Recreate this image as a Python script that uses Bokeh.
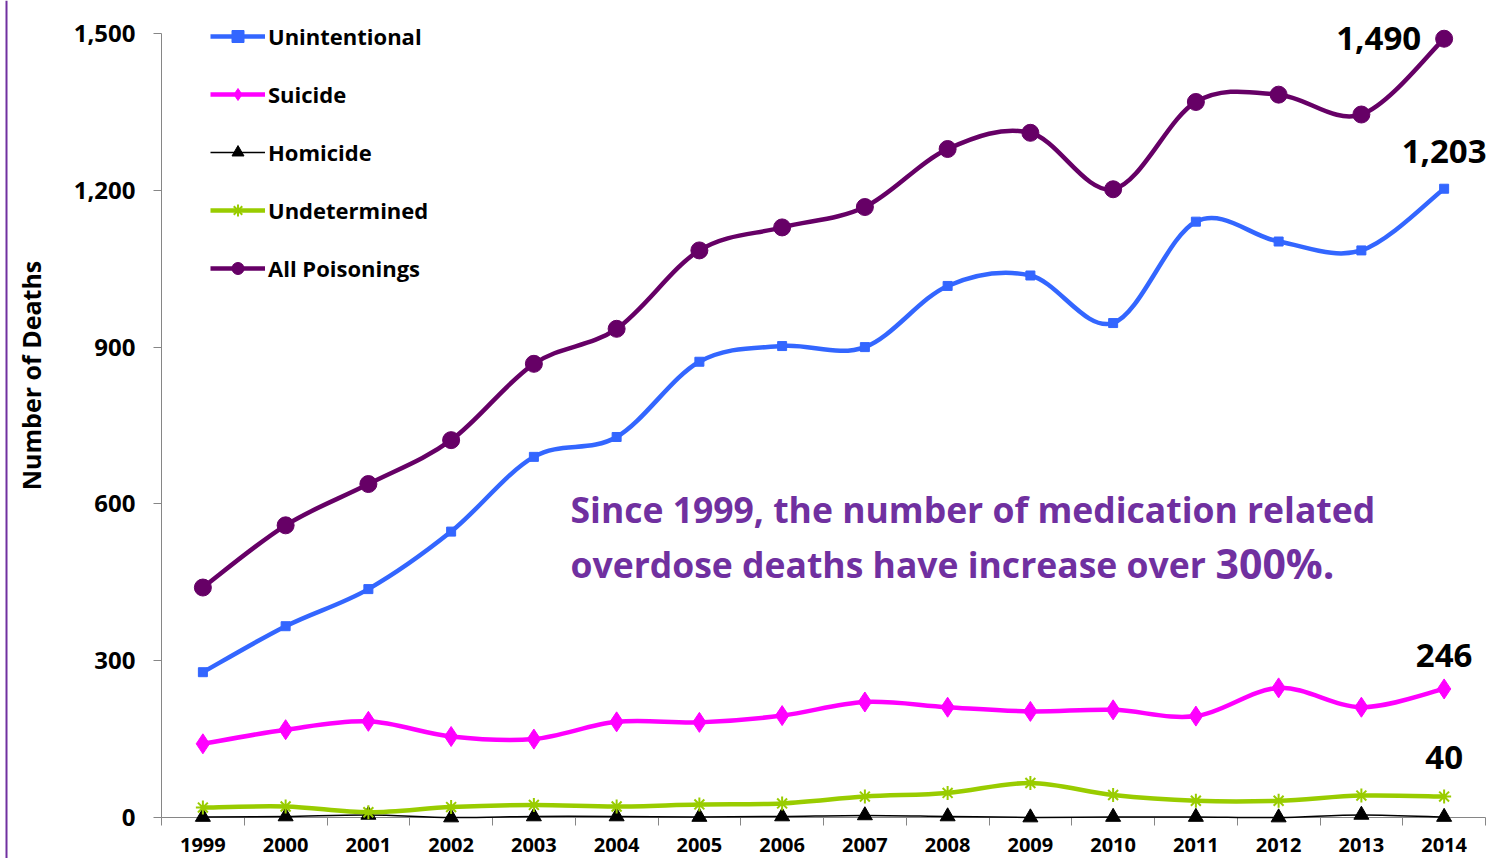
import numpy as np
from bokeh.plotting import figure
from bokeh.models import (Range1d, FixedTicker, NumeralTickFormatter, Legend,
                          LegendItem, Label, BoxAnnotation)
from bokeh.embed import file_html
from bokeh.resources import INLINE

# ---------------- data ----------------
years = ["1999", "2000", "2001", "2002", "2003", "2004", "2005", "2006",
         "2007", "2008", "2009", "2010", "2011", "2012", "2013", "2014"]
unintentional = [278, 366, 437, 547, 690, 728, 872, 902, 900, 1017, 1037, 946, 1140, 1102, 1085, 1203]
suicide = [141, 168, 184, 155, 150, 183, 182, 195, 221, 211, 203, 206, 194, 248, 211, 246]
homicide = [1, 2, 5, 0, 2, 2, 1, 2, 4, 2, 0, 1, 1, 0, 5, 1]
undetermined = [19, 21, 10, 20, 24, 21, 25, 27, 40, 47, 66, 43, 32, 32, 42, 40]
all_poisonings = [440, 559, 638, 722, 868, 935, 1085, 1129, 1168, 1279, 1310, 1202, 1369, 1383, 1345, 1490]
y_ticks = [0, 300, 600, 900, 1200, 1500]

FONT = "Open Sans"
PURPLE_TEXT = "#7030A0"
AXIS_GRAY = "#868686"

W, H = 1494, 858
PLOT_L, PLOT_R, Y0_PX = 161, 1485, 817       # pixel layout of the plot area
CAT_W = (PLOT_R - PLOT_L) / len(years)       # px per category
PX_PER_UNIT = 784 / 1500                     # px per death

xs = np.arange(len(years), dtype=float)


def smooth_segments(xv, yv):
    """Catmull-Rom style Bezier control points (like Excel's smoothed line)."""
    xv = np.asarray(xv, float)
    yv = np.asarray(yv, float)
    px = np.concatenate([[xv[0]], xv, [xv[-1]]])
    py = np.concatenate([[yv[0]], yv, [yv[-1]]])
    n = len(xv)
    p0x, p0y = px[0:n - 1], py[0:n - 1]
    p1x, p1y = px[1:n], py[1:n]
    p2x, p2y = px[2:n + 1], py[2:n + 1]
    p3x, p3y = px[3:n + 2], py[3:n + 2]
    return dict(x0=p1x, y0=p1y, x1=p2x, y1=p2y,
                cx0=p1x + (p2x - p0x) / 6.0, cy0=p1y + (p2y - p0y) / 6.0,
                cx1=p2x - (p3x - p1x) / 6.0, cy1=p2y - (p3y - p1y) / 6.0)


def sx(px):   # pixel column -> x data value
    return -0.5 + (px - PLOT_L) / CAT_W


def sy(py):   # pixel row -> y data value
    return (Y0_PX - py) / PX_PER_UNIT


# the frame covers the whole canvas; axes are pinned inside it
p = figure(width=W, height=H,
           x_range=Range1d(sx(0), sx(W)), y_range=Range1d(sy(H), sy(0)),
           output_backend="svg", toolbar_location=None,
           min_border_left=0, min_border_right=0,
           min_border_top=0, min_border_bottom=0)
p.xgrid.visible = False
p.ygrid.visible = False
p.outline_line_color = None
p.background_fill_color = "white"
p.border_fill_color = "white"

# y axis
yax = p.yaxis[0]
yax.fixed_location = -0.5
yax.bounds = (0, 1500)
yax.level = "underlay"
yax.ticker = FixedTicker(ticks=y_ticks)
yax.formatter = NumeralTickFormatter(format="0,0")
yax.axis_line_color = AXIS_GRAY
yax.major_tick_line_color = AXIS_GRAY
yax.major_tick_out = 8
yax.major_tick_in = 0
yax.minor_tick_line_color = None
yax.major_label_text_font = FONT
yax.major_label_text_font_style = "bold"
yax.major_label_text_font_size = "24px"
yax.major_label_text_color = "black"
yax.major_label_standoff = 18

# x axis, pinned at value 0
xax = p.xaxis[0]
xax.fixed_location = 0
xax.bounds = (-0.5, len(years) - 0.5)
xax.level = "underlay"
xax.ticker = FixedTicker(ticks=list(range(len(years))),
                         minor_ticks=[i - 0.5 for i in range(len(years) + 1)])
xax.major_label_overrides = {i: y for i, y in enumerate(years)}
xax.axis_line_color = AXIS_GRAY
xax.major_tick_line_color = None
xax.major_tick_out = 0
xax.major_tick_in = 0
xax.minor_tick_line_color = AXIS_GRAY
xax.minor_tick_out = 8
xax.minor_tick_in = 0
xax.major_label_text_font = FONT
xax.major_label_text_font_style = "bold"
xax.major_label_text_font_size = "20px"
xax.major_label_text_color = "black"
xax.major_label_standoff = 12

# y axis title (placed like the original, above the plot's middle)
p.add_layout(Label(x=sx(30), y=sy(375), text="Number of Deaths", angle=np.pi / 2,
                   text_align="center", text_baseline="middle",
                   text_font=FONT, text_font_style="bold",
                   text_font_size="25px", text_color="black"))

# purple rule at the left edge of the slide
p.add_layout(BoxAnnotation(left=sx(5), right=sx(7),
                           fill_color=PURPLE_TEXT, fill_alpha=1,
                           line_color=None))

series = [
    ("Unintentional", unintentional, "#3366FF", 4.5, "square", 9, 1),
    ("Suicide", suicide, "#FF00FF", 4.5, "diamond", 20, 1),
    ("Homicide", homicide, "black", 1.5, "triangle", 15, 1),
    ("Undetermined", undetermined, "#99CC00", 4.5, "asterisk", 14, 2),
    ("All Poisonings", all_poisonings, "#660066", 4.5, "circle", 17, 1),
]

items = []
for name, vals, color, lw, marker, msize, mlw in series:
    seg = smooth_segments(xs, vals)
    bz = p.bezier(x0=seg["x0"], y0=seg["y0"], x1=seg["x1"], y1=seg["y1"],
                  cx0=seg["cx0"], cy0=seg["cy0"], cx1=seg["cx1"], cy1=seg["cy1"],
                  line_color=color, line_width=lw)
    sc = p.scatter(x=xs, y=vals, marker=marker, size=msize,
                   fill_color=color, line_color=color, line_width=mlw)
    items.append(LegendItem(label=name, renderers=[bz, sc]))

legend = Legend(items=items, location=(210, 575), orientation="vertical",
                glyph_width=55, glyph_height=30, label_height=30,
                spacing=28, padding=0, margin=0, label_standoff=3,
                label_text_font=FONT, label_text_font_style="bold",
                label_text_font_size="22px", label_text_color="black",
                background_fill_alpha=0, border_line_alpha=0)
p.add_layout(legend)

# value labels at the last year
last = len(years) - 1
val_labels = [
    (all_poisonings[last], -23, 0, "right"),
    (unintentional[last], 0, 37, "center"),
    (suicide[last], 0, 33, "center"),
    (undetermined[last], 0, 39, "center"),
]
for v, xo, yo, align in val_labels:
    p.add_layout(Label(x=last, y=v, text=f"{v:,}", x_offset=xo, y_offset=yo,
                       text_align=align, text_baseline="middle",
                       text_font=FONT, text_font_style="bold",
                       text_font_size="33px", text_color="black"))

# annotation text
p.add_layout(Label(x=sx(570), y=sy(508), text="Since 1999, the number of medication related",
                   text_align="left", text_baseline="middle",
                   text_font=FONT, text_font_style="bold",
                   text_font_size="35.5px", text_color=PURPLE_TEXT))
p.add_layout(Label(x=sx(570), y=sy(563), text="overdose deaths have increase over",
                   text_align="left", text_baseline="middle",
                   text_font=FONT, text_font_style="bold",
                   text_font_size="35.5px", text_color=PURPLE_TEXT))
p.add_layout(Label(x=sx(1215), y=sy(562), text="300%.",
                   text_align="left", text_baseline="middle",
                   text_font=FONT, text_font_style="bold",
                   text_font_size="41px", text_color=PURPLE_TEXT))

open("out.html", "w").write(file_html(p, INLINE))
